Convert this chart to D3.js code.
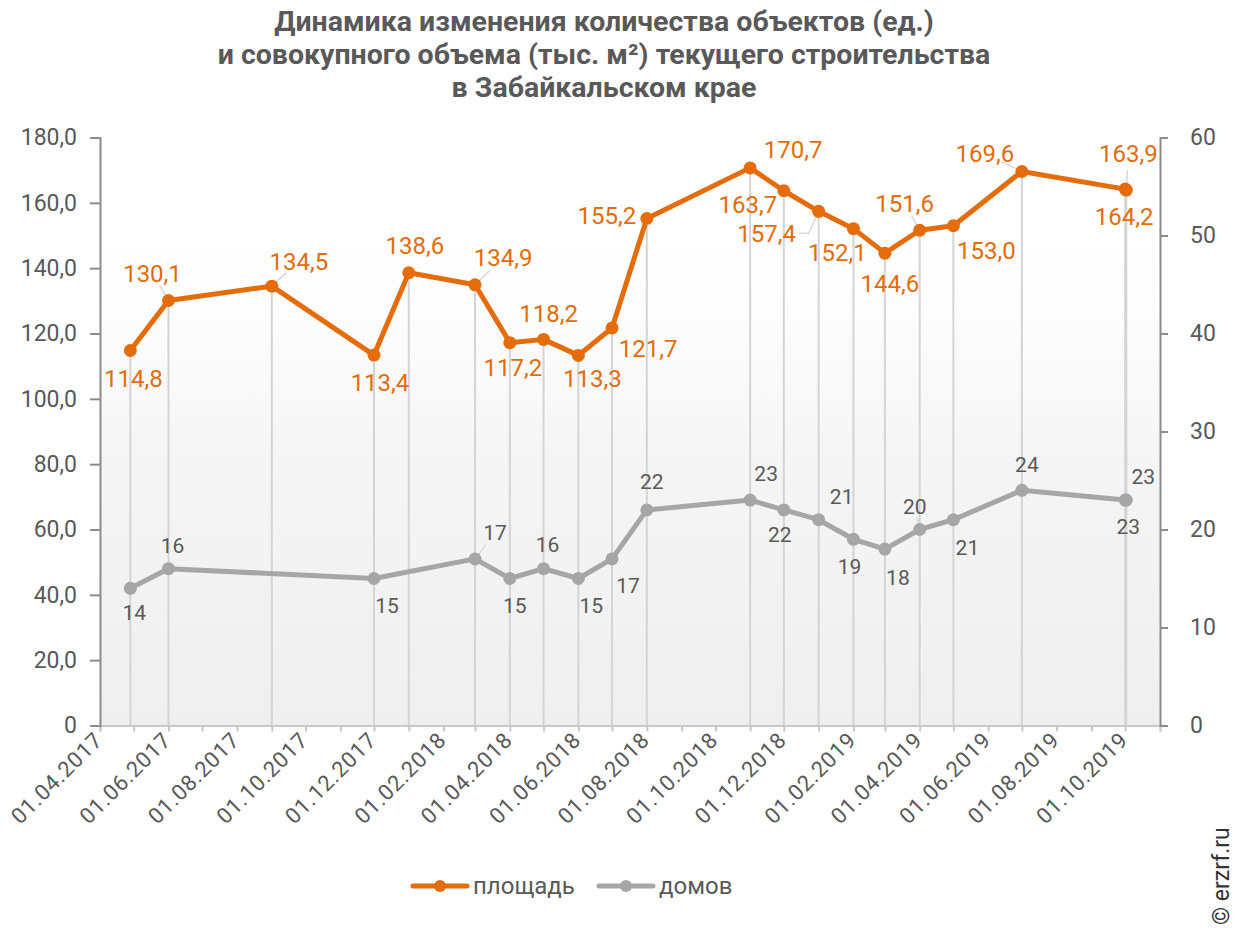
<!DOCTYPE html>
<html>
<head>
<meta charset="utf-8">
<script src="https://cdn.jsdelivr.net/npm/d3@7"></script>
<style>
  body { margin: 0; background: #fff; }
  svg { font-family: Roboto, "Noto Sans", sans-serif; }
</style>
</head>
<body>
<svg id="chart" width="1235" height="928"></svg>
<script>
// Dates of the observations (the last two fall on the same day in the source)
const dates = ['2017-04-28', '2017-06-01', '2017-09-01', '2017-12-01', '2018-01-01',
  '2018-03-01', '2018-04-01', '2018-05-01', '2018-06-01', '2018-07-01', '2018-08-01',
  '2018-11-01', '2018-12-01', '2019-01-01', '2019-02-01', '2019-03-01', '2019-04-01',
  '2019-05-01', '2019-07-01', '2019-10-01', '2019-10-02'];

// площадь, тыс. м²
const areaValues = [114.8, 130.1, 134.5, 113.4, 138.6, 134.9, 117.2, 118.2, 113.3, 121.7,
  155.2, 170.7, 163.7, 157.4, 152.1, 144.6, 151.6, 153.0, 169.6, 164.2, 163.9];

// домов, ед. (null = no value for that date)
const houseValues = [14, 16, null, 15, null, 17, 15, 16, 15, 17, 22, 23, 22, 21, 19, 18,
  20, 21, 24, 23, 23];

const leftTicks = [0, 20, 40, 60, 80, 100, 120, 140, 160, 180];
const rightTicks = [0, 10, 20, 30, 40, 50, 60];
const titleLines = ['Динамика изменения количества объектов (ед.)',
  'и совокупного объема (тыс. м²) текущего строительства',
  'в Забайкальском крае'];
const seriesNames = ['площадь', 'домов'];

// label offsets from the marker centre: [dx, dy, leader?] (leader 2 = elbow)
const areaLabelPos = [[3, 28], [-16, -27, 1], [27, -25, 1], [6, 28], [6, -27], [28, -27, 1],
  [3, 25], [5, -26], [14, 23], [36, 21], [-40, -3], [43, -18], [-36, 14], [-52, 22, 2],
  [-16, 24], [5, 30], [-15, -27, 1], [33, 25], [-37, -18, 1], [-1, 27], [2, -36, 1]];
const houseLabelPos = [[4, 24], [4, -23], [13, 27], [20, -26, 1], [5, 27], [4, -24], [13, 27],
  [16, 27], [5, -28], [16, -26], [-4, 25], [23, -23], [-4, 27], [13, 29], [-5, -23, 1],
  [14, 28], [5, -26], [3, 27], [17, -23]];

const orange = '#E46C0A';
const grey = '#A6A6A6';
const textGrey = '#595959';

const parseDate = d3.timeParse('%Y-%m-%d');
const fmtDate = d3.timeFormat('%d.%m.%Y');
const commaFmt = v => d3.format('.1f')(v).replace('.', ',');

const svg = d3.select('#chart');

const plotLeft = 100, plotRight = 1160, plotTop = 137.5, plotBottom = 725.5;

const x = d3.scaleTime()
  .domain([parseDate('2017-04-01'), parseDate('2019-11-01')])
  .range([plotLeft, plotRight]);
const yL = d3.scaleLinear().domain([0, 180]).range([plotBottom, plotTop]);
const yR = d3.scaleLinear().domain([0, 60]).range([plotBottom, plotTop]);

const areaData = dates.map((d, i) => ({ date: parseDate(d), v: areaValues[i], pos: areaLabelPos[i] }));
const houseData = dates.map((d, i) => ({ date: parseDate(d), v: houseValues[i] }))
  .filter(d => d.v != null)
  .map((d, i) => Object.assign(d, { pos: houseLabelPos[i] }));

// plot background gradient
const defs = svg.append('defs');
const grad = defs.append('linearGradient').attr('id', 'bg')
  .attr('x1', 0).attr('y1', 0).attr('x2', 0).attr('y2', 1);
grad.append('stop').attr('offset', '0%').attr('stop-color', '#ffffff');
grad.append('stop').attr('offset', '25%').attr('stop-color', '#fefefe');
grad.append('stop').attr('offset', '55%').attr('stop-color', '#f5f5f5');
grad.append('stop').attr('offset', '100%').attr('stop-color', '#efefef');

svg.append('rect')
  .attr('x', plotLeft).attr('y', plotTop)
  .attr('width', plotRight - plotLeft).attr('height', plotBottom - plotTop)
  .attr('fill', 'url(#bg)');

// title
svg.append('g').selectAll('text')
  .data(titleLines)
  .enter().append('text')
  .attr('x', 604)
  .attr('y', (d, i) => 31 + i * 33)
  .attr('text-anchor', 'middle')
  .attr('font-size', 28.5)
  .attr('font-weight', 'bold')
  .attr('fill', textGrey)
  .text(d => d);

// drop lines
svg.append('g').selectAll('line')
  .data(areaData)
  .enter().append('line')
  .attr('x1', d => x(d.date)).attr('x2', d => x(d.date))
  .attr('y1', d => yL(d.v)).attr('y2', plotBottom)
  .attr('stroke', '#d4d4d4')
  .attr('stroke-width', 2);

// x axis
const months = d3.timeMonth.range(x.domain()[0], d3.timeMonth.offset(x.domain()[1], 1));
const xAxis = d3.axisBottom(x)
  .tickValues(months)
  .tickSize(6)
  .tickFormat(() => '');
const gx = svg.append('g')
  .attr('transform', `translate(0,${plotBottom})`)
  .call(xAxis);
gx.select('.domain').attr('stroke', '#c8c8c8').attr('stroke-width', 2);
gx.selectAll('.tick line').attr('stroke', '#c8c8c8').attr('stroke-width', 2);

svg.append('g').selectAll('text')
  .data(months.filter((m, i) => i % 2 === 0))
  .enter().append('text')
  .attr('transform', d => `translate(${x(d) + 4},${plotBottom + 16}) rotate(-45)`)
  .attr('text-anchor', 'end')
  .attr('font-size', 22)
  .attr('letter-spacing', 0.8)
  .attr('fill', textGrey)
  .text(d => fmtDate(d));

// left axis
const gl = svg.append('g')
  .attr('transform', `translate(${plotLeft},0)`)
  .call(d3.axisLeft(yL).tickValues(leftTicks).tickSize(10).tickPadding(13)
    .tickFormat(d => d === 0 ? '0' : commaFmt(d)));
gl.select('.domain').attr('stroke', '#8c8c8c').attr('stroke-width', 2);
gl.selectAll('.tick line').attr('stroke', '#8c8c8c').attr('stroke-width', 2);
gl.selectAll('.tick text').attr('font-size', 23).attr('fill', textGrey)
  .attr('font-family', 'Roboto, sans-serif');

// right axis
const gr = svg.append('g')
  .attr('transform', `translate(${plotRight},0)`)
  .call(d3.axisRight(yR).tickValues(rightTicks).tickSize(8).tickPadding(22));
gr.select('.domain').attr('stroke', '#8c8c8c').attr('stroke-width', 2);
gr.selectAll('.tick line').attr('stroke', '#8c8c8c').attr('stroke-width', 2);
gr.selectAll('.tick text').attr('font-size', 23).attr('fill', textGrey)
  .attr('font-family', 'Roboto, sans-serif');

// leader lines
function leaders(data, yScale) {
  svg.append('g').selectAll('path')
    .data(data.filter(d => d.pos[2]))
    .enter().append('path')
    .attr('d', d => {
      const px = x(d.date), py = yScale(d.v);
      if (d.pos[2] === 2) {
        // elbow: up from the label's right edge to the marker
        return `M${px + d.pos[0] + 32},${py + d.pos[1]}H${px - 10}L${px},${py}`;
      }
      return `M${px},${py}L${px + d.pos[0] * 0.55},${py + d.pos[1] * 0.55}`;
    })
    .attr('fill', 'none')
    .attr('stroke', '#d9d9d9')
    .attr('stroke-width', 1.5);
}
leaders(areaData, yL);
leaders(houseData, yR);

// series lines
const lineL = d3.line().x(d => x(d.date)).y(d => yL(d.v));
const lineR = d3.line().x(d => x(d.date)).y(d => yR(d.v));

svg.append('path').datum(houseData)
  .attr('d', lineR)
  .attr('fill', 'none').attr('stroke', grey).attr('stroke-width', 5)
  .attr('stroke-linejoin', 'round');
svg.append('g').selectAll('circle')
  .data(houseData)
  .enter().append('circle')
  .attr('cx', d => x(d.date)).attr('cy', d => yR(d.v)).attr('r', 6.5)
  .attr('fill', grey);

svg.append('path').datum(areaData)
  .attr('d', lineL)
  .attr('fill', 'none').attr('stroke', orange).attr('stroke-width', 5)
  .attr('stroke-linejoin', 'round');
svg.append('g').selectAll('circle')
  .data(areaData)
  .enter().append('circle')
  .attr('cx', d => x(d.date)).attr('cy', d => yL(d.v)).attr('r', 6.5)
  .attr('fill', orange);

// data labels
svg.append('g').selectAll('text')
  .data(houseData)
  .enter().append('text')
  .attr('x', d => x(d.date) + d.pos[0])
  .attr('y', d => yR(d.v) + d.pos[1])
  .attr('dy', '0.35em')
  .attr('text-anchor', 'middle')
  .attr('font-size', 21)
  .attr('fill', textGrey)
  .text(d => d.v);

svg.append('g').selectAll('text')
  .data(areaData)
  .enter().append('text')
  .attr('x', d => x(d.date) + d.pos[0])
  .attr('y', d => yL(d.v) + d.pos[1])
  .attr('dy', '0.35em')
  .attr('text-anchor', 'middle')
  .attr('font-size', 24)
  .attr('fill', orange)
  .text(d => commaFmt(d.v));

// legend
const legend = svg.append('g').attr('transform', 'translate(413,886)');
const legendItems = legend.selectAll('g')
  .data([[seriesNames[0], orange], [seriesNames[1], grey]])
  .enter().append('g')
  .attr('transform', (d, i) => `translate(${i * 186},0)`);
legendItems.append('line')
  .attr('x1', 0).attr('x2', 54).attr('y1', 0).attr('y2', 0)
  .attr('stroke', d => d[1]).attr('stroke-width', 5).attr('stroke-linecap', 'round');
legendItems.append('circle')
  .attr('cx', 27).attr('cy', 0).attr('r', 6)
  .attr('fill', d => d[1]);
legendItems.append('text')
  .attr('x', 60).attr('y', 0).attr('dy', '0.35em')
  .attr('font-size', 24).attr('fill', textGrey)
  .text(d => d[0]);

// copyright
svg.append('text')
  .attr('transform', 'translate(1229,925) rotate(-90)')
  .attr('font-size', 23)
  .attr('fill', '#333')
  .text('© erzrf.ru');
</script>
</body>
</html>
